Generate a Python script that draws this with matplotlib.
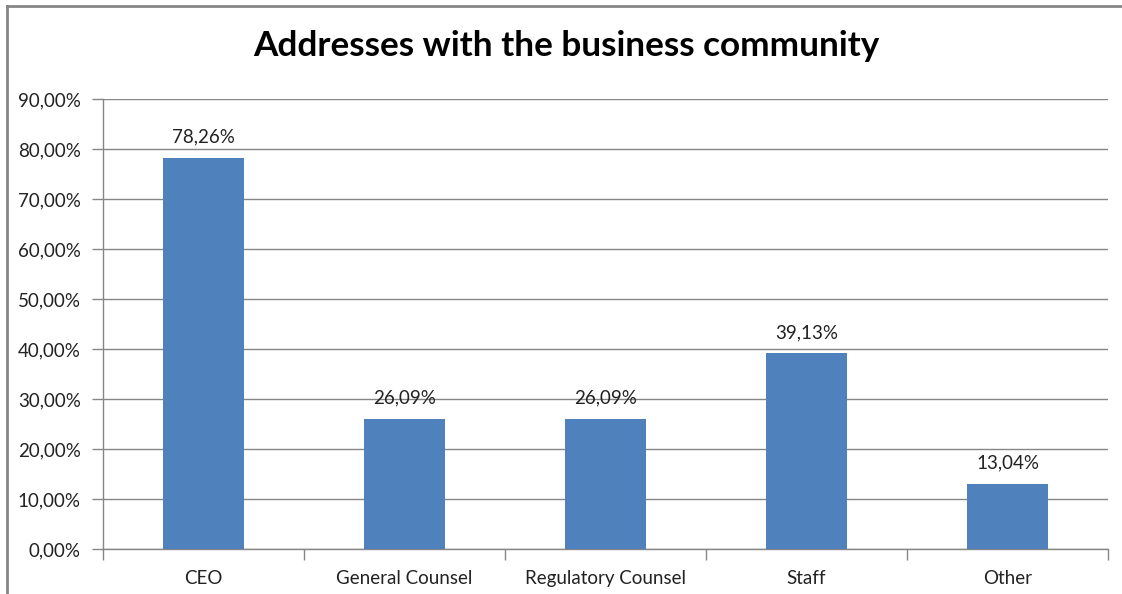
import matplotlib.pyplot as plt
from matplotlib.lines import Line2D
from matplotlib.ticker import FuncFormatter, MultipleLocator

# Survey data
categories = ["CEO", "General Counsel", "Regulatory Counsel", "Staff", "Other"]
values = [78.26, 26.09, 26.09, 39.13, 13.04]

plt.rcParams['font.family'] = ['Lato', 'DejaVu Sans']

fig = plt.figure(figsize=(11.22, 5.94), dpi=100)
ax = fig.add_axes([103/1122, 1 - 549/594, 1005/1122, 450/594])

x = range(len(categories))
bars = ax.bar(x, values, width=0.4, color='#4F81BD', zorder=3)

for xi, v in zip(x, values):
    ax.text(xi, v + 2.4, f"{v:.2f}%".replace('.', ','), ha='center', va='bottom',
            fontsize=13.5, color='#222222')

ax.set_xlim(-0.5, len(categories) - 0.5)
ax.set_ylim(0, 90)
ax.yaxis.set_major_locator(MultipleLocator(10))
ax.yaxis.set_major_formatter(FuncFormatter(lambda v, p: f"{v:.2f}%".replace('.', ',')))
ax.grid(axis='y', color='#868686', linewidth=1, zorder=0)

ax.set_xticks([i - 0.5 for i in range(len(categories) + 1)])
ax.set_xticklabels([])
ax.set_xticks(list(x), minor=True)
ax.set_xticklabels(categories, minor=True)
ax.tick_params(axis='x', which='major', length=8, color='#868686', width=1)
ax.tick_params(axis='x', which='minor', length=0, pad=15, labelsize=13.5, labelcolor='#222222')
ax.tick_params(axis='y', length=8, color='#868686', width=1, labelsize=13.5,
               labelcolor='#222222', pad=8)

for side in ['top', 'right']:
    ax.spines[side].set_visible(False)
for side in ['left', 'bottom']:
    ax.spines[side].set_color('#868686')
    ax.spines[side].set_linewidth(1)

fig.text(566/1122, 1 - 46/594, "Addresses with the business community",
         ha='center', va='center', fontsize=25.3, fontweight='bold')

# chart area border
fig.add_artist(Line2D([7/1122, 7/1122], [0, 1 - 6/594], color='#868686', linewidth=2,
                      transform=fig.transFigure))
fig.add_artist(Line2D([7/1122, 1], [1 - 6/594, 1 - 6/594], color='#868686', linewidth=2,
                      transform=fig.transFigure))

fig.savefig("out.png", dpi=100)
